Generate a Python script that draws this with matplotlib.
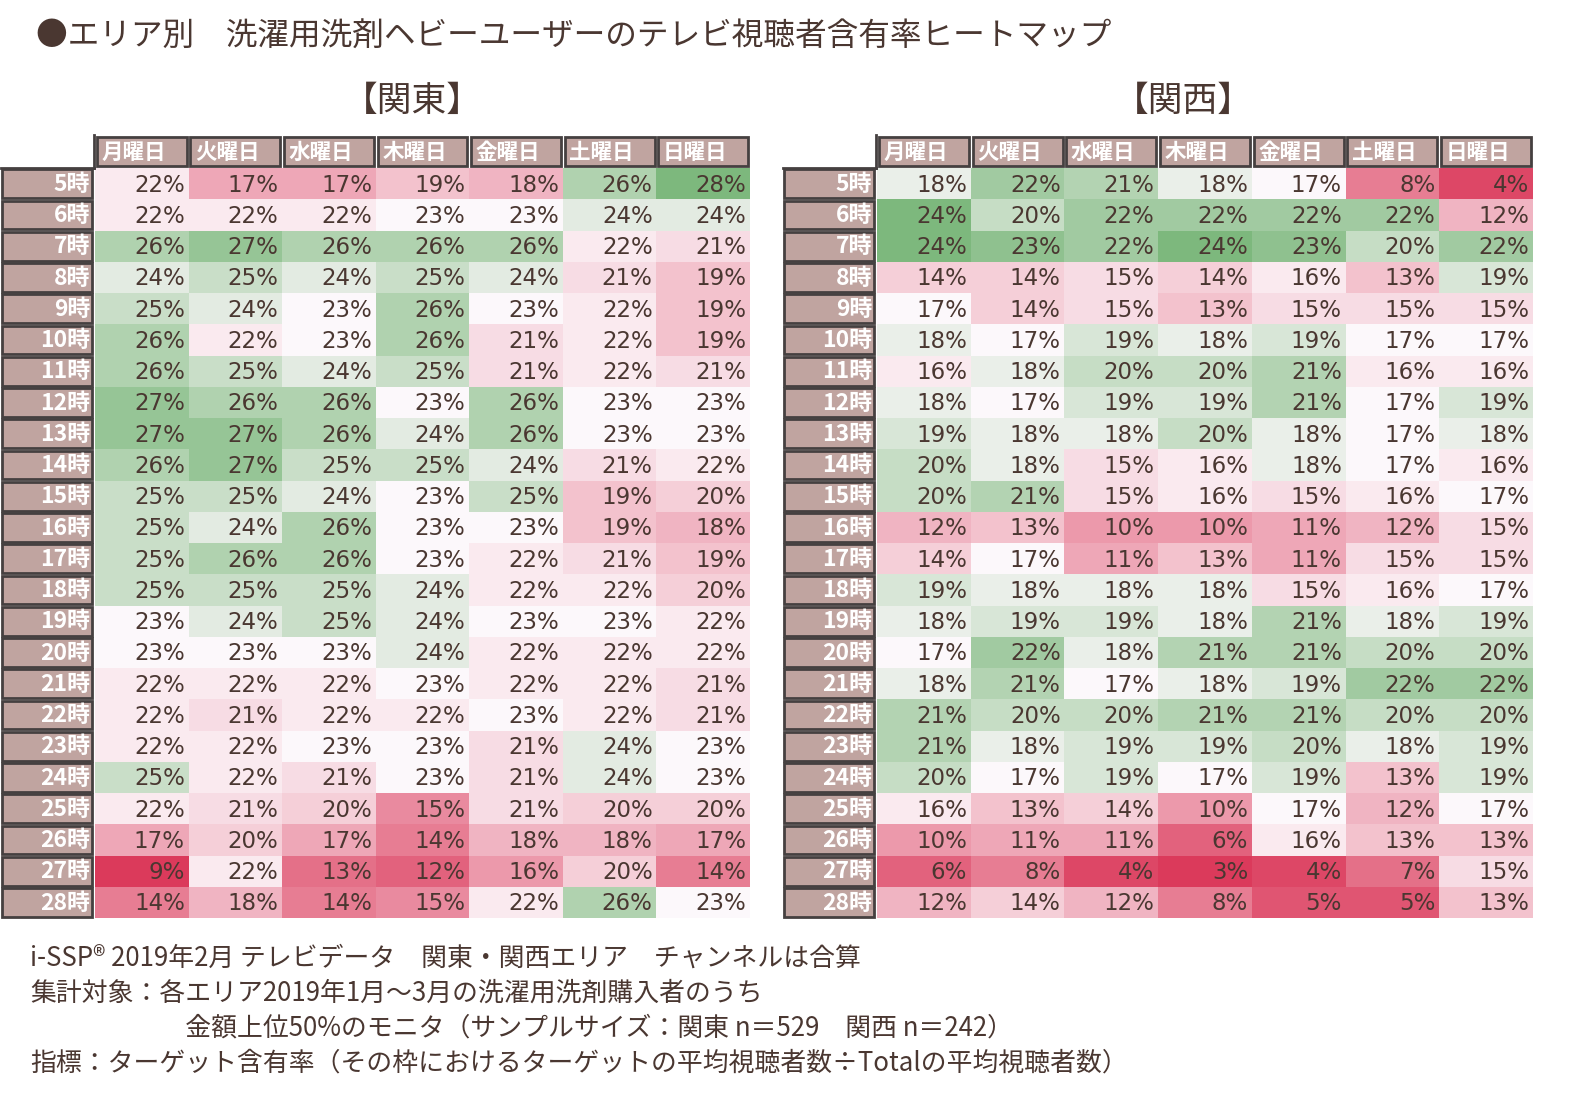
import numpy as np
import matplotlib
matplotlib.use("Agg")
import matplotlib.pyplot as plt
from matplotlib.colors import LinearSegmentedColormap, TwoSlopeNorm
from matplotlib.patches import Rectangle

plt.rcParams['font.family'] = ['Noto Sans CJK JP', 'DejaVu Sans']

title = "●エリア別　洗濯用洗剤ヘビーユーザーのテレビ視聴者含有率ヒートマップ"
days = ["月曜日", "火曜日", "水曜日", "木曜日", "金曜日", "土曜日", "日曜日"]
hours = [f"{h}時" for h in range(5, 29)]

# 関東 (%), rows = 5時..28時, cols = 月..日
kanto = [
    [22, 17, 17, 19, 18, 26, 28],
    [22, 22, 22, 23, 23, 24, 24],
    [26, 27, 26, 26, 26, 22, 21],
    [24, 25, 24, 25, 24, 21, 19],
    [25, 24, 23, 26, 23, 22, 19],
    [26, 22, 23, 26, 21, 22, 19],
    [26, 25, 24, 25, 21, 22, 21],
    [27, 26, 26, 23, 26, 23, 23],
    [27, 27, 26, 24, 26, 23, 23],
    [26, 27, 25, 25, 24, 21, 22],
    [25, 25, 24, 23, 25, 19, 20],
    [25, 24, 26, 23, 23, 19, 18],
    [25, 26, 26, 23, 22, 21, 19],
    [25, 25, 25, 24, 22, 22, 20],
    [23, 24, 25, 24, 23, 23, 22],
    [23, 23, 23, 24, 22, 22, 22],
    [22, 22, 22, 23, 22, 22, 21],
    [22, 21, 22, 22, 23, 22, 21],
    [22, 22, 23, 23, 21, 24, 23],
    [25, 22, 21, 23, 21, 24, 23],
    [22, 21, 20, 15, 21, 20, 20],
    [17, 20, 17, 14, 18, 18, 17],
    [9, 22, 13, 12, 16, 20, 14],
    [14, 18, 14, 15, 22, 26, 23],
]

# 関西 (%)
kansai = [
    [18, 22, 21, 18, 17, 8, 4],
    [24, 20, 22, 22, 22, 22, 12],
    [24, 23, 22, 24, 23, 20, 22],
    [14, 14, 15, 14, 16, 13, 19],
    [17, 14, 15, 13, 15, 15, 15],
    [18, 17, 19, 18, 19, 17, 17],
    [16, 18, 20, 20, 21, 16, 16],
    [18, 17, 19, 19, 21, 17, 19],
    [19, 18, 18, 20, 18, 17, 18],
    [20, 18, 15, 16, 18, 17, 16],
    [20, 21, 15, 16, 15, 16, 17],
    [12, 13, 10, 10, 11, 12, 15],
    [14, 17, 11, 13, 11, 15, 15],
    [19, 18, 18, 18, 15, 16, 17],
    [18, 19, 19, 18, 21, 18, 19],
    [17, 22, 18, 21, 21, 20, 20],
    [18, 21, 17, 18, 19, 22, 22],
    [21, 20, 20, 21, 21, 20, 20],
    [21, 18, 19, 19, 20, 18, 19],
    [20, 17, 19, 17, 19, 13, 19],
    [16, 13, 14, 10, 17, 12, 17],
    [10, 11, 11, 6, 16, 13, 13],
    [6, 8, 4, 3, 4, 7, 15],
    [12, 14, 12, 8, 5, 5, 13],
]

notes = [
    "i-SSP® 2019年2月 テレビデータ　関東・関西エリア　チャンネルは合算",
    "集計対象：各エリア2019年1月～3月の洗濯用洗剤購入者のうち",
    "　　　　　　金額上位50%のモニタ（サンプルサイズ：関東 n＝529　関西 n＝242）",
    "指標：ターゲット含有率（その枠におけるターゲットの平均視聴者数÷Totalの平均視聴者数）",
]

TEXT = "#4a3731"
HEAD = "#c0a4a0"
EDGE = "#454040"
cmap = LinearSegmentedColormap.from_list(
    "rwg", ["#db3a5b", "#fcf8fb", "#7db87d"])

W, H = 1571, 1096
fig = plt.figure(figsize=(W / 100, H / 100), dpi=100)


def px_axes(x0, y0, x1, y1):
    return fig.add_axes([x0 / W, 1 - y1 / H, (x1 - x0) / W, (y1 - y0) / H])


def draw_map(ax, data, name, cx):
    arr = np.array(data, dtype=float)
    norm = TwoSlopeNorm(vmin=arr.min(), vcenter=np.median(arr), vmax=arr.max())
    ax.pcolormesh(np.arange(arr.shape[1] + 1), np.arange(arr.shape[0] + 1),
                  arr, cmap=cmap, norm=norm)
    ax.set_xlim(0, arr.shape[1])
    ax.set_ylim(arr.shape[0], 0)
    ax.axis("off")
    for r in range(arr.shape[0]):
        for c in range(arr.shape[1]):
            ax.text(c + 0.96, r + 0.55, f"{int(arr[r, c])}%", ha="right",
                    va="center", fontsize=16.5, color=TEXT,
                    family=["DejaVu Sans"])
    for c, d in enumerate(days):
        ax.add_patch(Rectangle((c + 0.02, -0.98), 0.96, 0.93, facecolor=HEAD,
                               edgecolor=EDGE, lw=2, clip_on=False))
        ax.text(c + 0.07, -0.5, d, ha="left", va="center", fontsize=15.5,
                color="white", fontweight="bold")
    for r, h in enumerate(hours):
        ax.add_patch(Rectangle((-0.99, r + 0.04), 0.96, 0.92, facecolor=HEAD,
                               edgecolor=EDGE, lw=2, clip_on=False))
        ax.text(-0.05, r + 0.52, h, ha="right", va="center", fontsize=16.5,
                color="white", fontweight="bold")
    # corner lines framing the header/label blocks
    ax.plot([-0.015, -0.015], [-1.05, 0], color=EDGE, lw=2, clip_on=False)
    ax.plot([-1.0, -0.015], [-0.015, -0.015], color=EDGE, lw=2, clip_on=False)
    fig.text(cx / W, 1 - 101 / H, name, ha="center", va="center",
             fontsize=25, color=TEXT)


ax1 = px_axes(95, 168, 750, 918)
draw_map(ax1, kanto, "【関東】", 412)
ax2 = px_axes(877, 168, 1533, 918)
draw_map(ax2, kansai, "【関西】", 1183)

fig.text(36 / W, 1 - 36 / H, title, ha="left", va="center", fontsize=22.8,
         color=TEXT)
for i, line in enumerate(notes):
    fig.text(30 / W, 1 - (958 + 35 * i) / H, line, ha="left", va="center",
             fontsize=18.6, color=TEXT)

fig.savefig("out.png", dpi=100, facecolor="white")
